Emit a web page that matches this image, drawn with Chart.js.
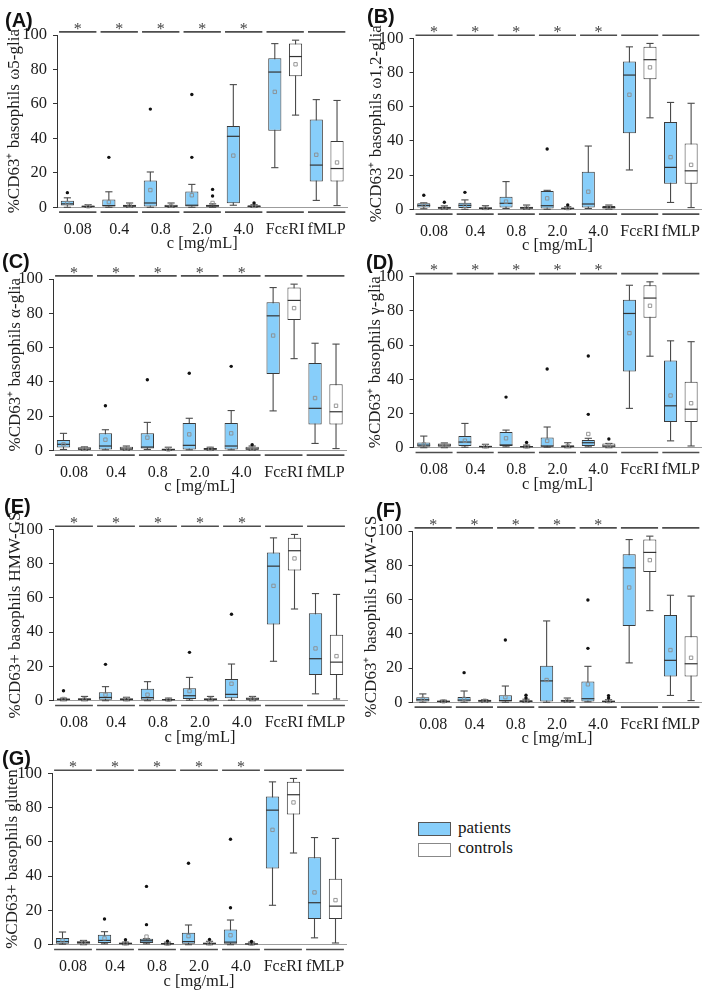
<!DOCTYPE html>
<html>
<head>
<meta charset="utf-8">
<script src="https://cdn.jsdelivr.net/npm/chart.js@4.4.1/dist/chart.umd.min.js"></script>
<style>
html,body{margin:0;padding:0;background:#fff;}
#wrap{position:relative;width:709px;height:992px;overflow:hidden;background:#fff;}
#wrap canvas{position:absolute;}
.lg{position:absolute;font-family:'Liberation Serif',serif;font-size:17px;color:#151515;line-height:20px;white-space:nowrap;}
.sw{position:absolute;width:31px;height:12px;border:1px solid #666;}
</style>
</head>
<body>
<div id="wrap">
  <div class="sw" style="left:418px;top:822px;background:#87CEFA;border-color:#555;"></div>
  <div class="lg" style="left:458px;top:818px;">patients</div>
  <div class="sw" style="left:418px;top:843px;background:#fff;border-color:#888;"></div>
  <div class="lg" style="left:458px;top:838px;">controls</div>
</div>
<script>
// ---------------- data ----------------
const groups = ['0.08', '0.4', '0.8', '2.0', '4.0', 'FcεRI', 'fMLP'];
const stars  = ['*', '*', '*', '*', '*', '', ''];

// box stats per group: [lower whisker, Q1, median, Q3, upper whisker]
// positive controls (same in all panels)
const posPatients      = [[23, 44.5, 78.5, 86.5, 95], [4, 15, 24.5, 51, 62.5]];
const posPatientsMean  = [67, 30.5];
const posControls      = [[53.5, 76, 87.5, 95, 97], [1, 15, 22.5, 38.5, 62]];
const posControlsMean  = [83, 26];

// (A) omega5-gliadin
const omega5Patients     = [[0,1,2,3.8,5.5],[0,0.5,1,4.5,9],[0,0.5,2.5,15.5,20.5],[0,0.5,1.2,9.2,13.3],[1.2,2.3,41.2,47.2,71.2]];
const omega5PatientsMean = [2.5, 3, 10, 7, 30];
const omega5PatientsOut  = [[8.5],[29],[57],[29,65.5],[]];
const omega5Controls     = [[0,0.2,0.5,1,1.5],[0,0.3,0.7,1.5,2.5],[0,0.2,0.7,1.5,2.5],[0,0.3,0.8,1.5,2],[0,0.2,0.5,1.2,1.5]];
const omega5ControlsMean = [0.6, 1, 1, 2.5, 0.8];
const omega5ControlsOut  = [[],[],[],[6.6,10.4],[2.5]];

// (B) omega1,2-gliadin
const omega12Patients     = [[0.3,1,2.3,3.5,3.8],[0,0.8,2.3,3.9,5.5],[0.5,1,3.5,7.4,16.2],[0,0.5,2.1,10.7,11.1],[0.5,1,3.1,22,37]];
const omega12PatientsMean = [2.5, 2, 4.5, 6.4, 10.3];
const omega12PatientsOut  = [[8.2],[9.9],[],[35.3],[]];
const omega12Controls     = [[0,0.3,0.8,1.5,2],[0,0.2,0.6,1.2,2.1],[0,0.3,0.8,1.5,2.5],[0,0.2,0.5,1,1.5],[0,0.5,1,2,2.5]];
const omega12ControlsMean = [1, 0.8, 1, 0.7, 1.2];
const omega12ControlsOut  = [[4.1],[],[],[2.5],[]];

// (C) alpha-gliadin
const alphaPatients     = [[0.5,1.6,3.5,6,9.9],[0.3,0.5,2.5,10,12],[0.5,1,1.9,9.9,16.3],[0.3,0.5,2.9,16,18.7],[0.3,0.5,2.5,16,23.2]];
const alphaPatientsMean = [3.5, 6.2, 7.4, 9.3, 9.9];
const alphaPatientsOut  = [[],[26],[41.2],[45],[49]];
const alphaControls     = [[0,0.3,0.7,1.8,2],[0,0.3,0.8,2,2.5],[0,0.1,0.4,1,1.8],[0,0.3,0.7,1.3,1.8],[0,0.3,0.8,2,2.5]];
const alphaControlsMean = [0.8, 1, 0.5, 0.8, 1];
const alphaControlsOut  = [[],[],[],[],[3.3]];

// (D) gamma-gliadin
const gammaPatients     = [[0,0.5,1.5,3.1,6.8],[0.3,1,3.3,6.8,14.2],[0.5,1,1.6,9.2,10.3],[0.3,0.5,1,6,12.1],[0.5,1,2.9,4.5,5.5]];
const gammaPatientsMean = [2, 4.1, 5.5, 4, 8];
const gammaPatientsOut  = [[],[],[29.6],[46],[19.5,53.6]];
const gammaControls     = [[0,0.5,1.5,2.5,2.8],[0,0.3,0.7,1.2,2],[0,0.3,0.6,1,1.5],[0,0.3,0.7,1.5,2.9],[0,0.3,1,2.5,2.5]];
const gammaControlsMean = [1.5, 0.8, 0.7, 1, 1.3];
const gammaControlsOut  = [[],[],[3.1],[],[5.1]];

// (E) HMW-GS
const hmwPatients     = [[0,0.3,0.8,1.3,1.5],[0,0.5,1.9,5,8.2],[0,0.5,1.8,7,11.1],[0.3,1,2.9,7.2,13.6],[0.3,1.5,3.7,12.6,21.4]];
const hmwPatientsMean = [1, 3.5, 3.5, 5.6, 9.9];
const hmwPatientsOut  = [[5.8],[21.2],[],[28.2],[50.4]];
const hmwControls     = [[0,0.3,0.8,1.5,2.5],[0,0.3,0.7,1.5,2],[0,0.2,0.6,1,1.5],[0,0.3,0.7,1.5,2.5],[0,0.5,1,1.8,2.5]];
const hmwControlsMean = [1, 0.9, 0.6, 1, 1.2];
const hmwControlsOut  = [[],[],[],[],[]];

// (F) LMW-GS
const lmwPatients     = [[0,0.5,1.5,2.9,4.9],[0,0.5,1.3,3.1,6.6],[0,0.5,1,4.1,9.5],[0,0.5,12.5,21.4,47.5],[0.3,0.5,2.1,12.1,21]];
const lmwPatientsMean = [2, 2, 3, 13, 10.5];
const lmwPatientsOut  = [[],[17.3],[36.4],[],[31.5,59.7]];
const lmwControls     = [[0,0.2,0.5,1,1.2],[0,0.3,0.8,1.5,1.5],[0,0.2,0.6,1.2,1.8],[0,0.3,0.8,1.5,2.5],[0,0.2,0.5,1,1.5]];
const lmwControlsMean = [0.6, 0.9, 0.8, 1, 0.7];
const lmwControlsOut  = [[],[],[2.5,4.1],[],[2.5,3.9]];

// (G) gluten
const glutenPatients     = [[0.3,0.5,1.8,3.9,7.4],[0.5,1,2.5,5.8,7.6],[0.5,1,2.3,3.5,3.5],[0,0.5,1.8,7,11.5],[0,0.5,1.5,8.9,14.4]];
const glutenPatientsMean = [2.5, 3.7, 4.7, 5, 5.5];
const glutenPatientsOut  = [[],[15],[11.7,34],[47.5],[21.6,61.5]];
const glutenControls     = [[0,0.5,1.3,2,2.5],[0,0.3,0.7,1.3,1.5],[0,0.2,0.5,1,1.5],[0,0.3,0.7,1.3,2],[0,0.2,0.4,0.8,1.5]];
const glutenControlsMean = [1.3, 0.8, 0.6, 0.8, 0.6];
const glutenControlsOut  = [[],[2.9],[2.1],[3.1],[1.9]];

const xTitle = 'c [mg/mL]';
const seriesNames = ['patients', 'controls'];

// ---------------- layout ----------------
const PANELS = [
  {key:'A', yTitle:'%CD63⁺ basophils ω5-glia', p:omega5Patients, pm:omega5PatientsMean, po:omega5PatientsOut, c:omega5Controls, cm:omega5ControlsMean, co:omega5ControlsOut,
   cv:{l:0,t:0,w:355}, area:{l:57,r:350.5,t:35,b:207.3}, lab:{x:5,y:21}, yt:14.5},
  {key:'B', yTitle:'%CD63⁺ basophils ω1,2-glia', p:omega12Patients, pm:omega12PatientsMean, po:omega12PatientsOut, c:omega12Controls, cm:omega12ControlsMean, co:omega12ControlsOut,
   cv:{l:355,t:0,w:354}, area:{l:413.5,r:706.5,t:38.3,b:209.3}, lab:{x:367,y:17.5}, yt:377},
  {key:'C', yTitle:'%CD63⁺ basophils α-glia', p:alphaPatients, pm:alphaPatientsMean, po:alphaPatientsOut, c:alphaControls, cm:alphaControlsMean, co:alphaControlsOut,
   cv:{l:0,t:250,w:355}, area:{l:53,r:346.5,t:279,b:450.3}, lab:{x:2,y:262}, yt:15.5},
  {key:'D', yTitle:'%CD63⁺ basophils γ-glia', p:gammaPatients, pm:gammaPatientsMean, po:gammaPatientsOut, c:gammaControls, cm:gammaControlsMean, co:gammaControlsOut,
   cv:{l:355,t:250,w:354}, area:{l:413.5,r:706.5,t:276.7,b:447.7}, lab:{x:366,y:263}, yt:375.5},
  {key:'E', yTitle:'%CD63+ basophils HMW-GS', p:hmwPatients, pm:hmwPatientsMean, po:hmwPatientsOut, c:hmwControls, cm:hmwControlsMean, co:hmwControlsOut,
   cv:{l:0,t:495,w:355}, area:{l:53,r:347,t:529.3,b:700.7}, lab:{x:4,y:507}, yt:15.5},
  {key:'F', yTitle:'%CD63⁺ basophils LMW-GS', p:lmwPatients, pm:lmwPatientsMean, po:lmwPatientsOut, c:lmwControls, cm:lmwControlsMean, co:lmwControlsOut,
   cv:{l:355,t:495,w:354}, area:{l:412.5,r:705.5,t:531,b:702.3}, lab:{x:376,y:511}, yt:372},
  {key:'G', yTitle:'%CD63+ basophils gluten', p:glutenPatients, pm:glutenPatientsMean, po:glutenPatientsOut, c:glutenControls, cm:glutenControlsMean, co:glutenControlsOut,
   cv:{l:0,t:740,w:355}, area:{l:52,r:346,t:773.3,b:944.7}, lab:{x:2,y:759}, yt:12.5}
];

const BLUE = '#87CEFA';
const SERIF = "'Liberation Serif', 'Times New Roman', serif";
const TEXT = '#1c1c1c';
const TOP_H = 22;

function buildPanel(P) {
  const h = Math.ceil(P.area.b + 46.6 - P.cv.t);
  const cvs = document.createElement('canvas');
  cvs.width = P.cv.w; cvs.height = h;
  cvs.style.left = P.cv.l + 'px'; cvs.style.top = P.cv.t + 'px';
  cvs.style.width = P.cv.w + 'px'; cvs.style.height = h + 'px';
  document.getElementById('wrap').appendChild(cvs);

  const padL = P.lab.x - P.cv.l;
  const padR = P.cv.l + P.cv.w - P.area.r;
  const yW = P.area.l - P.cv.l - padL;
  const ytPad = P.yt - P.lab.x - 8.5;
  const tPad = P.lab.y - P.cv.t - 10;
  const tPadB = (P.area.t - P.cv.t) - TOP_H - tPad - 20;
  const xH = P.cv.t + h - P.area.b;

  const pat = P.p.concat(posPatients), patM = P.pm.concat(posPatientsMean), patO = P.po.concat([[], []]);
  const ctl = P.c.concat(posControls), ctlM = P.cm.concat(posControlsMean), ctlO = P.co.concat([[], []]);

  const items = [];
  groups.forEach((g, i) => {
    items.push({x: 2 * i, s: pat[i], m: patM[i], o: patO[i], fill: BLUE});
    items.push({x: 2 * i + 1, s: ctl[i], m: ctlM[i], o: ctlO[i], fill: '#ffffff'});
  });

  const seg = yv => groups.flatMap((g, i) => [{x: 2*i - 0.4, y: yv}, {x: 2*i + 1.4, y: yv}, {x: 2*i + 1.45, y: null}]);
  const groupTicks = s => { s.ticks = groups.map((g, i) => ({value: 2 * i + 0.5})); };

  const datasets = [
    { type: 'bar', label: 'whiskers', grouped: false, order: 6, clip: false,
      data: items.map(it => ({x: it.x, y: [it.s[0], it.s[4]]})),
      backgroundColor: '#4a4a4a', borderWidth: 0, maxBarThickness: 1.1, inflateAmount: 0 },
    { type: 'bar', label: 'boxes', grouped: false, order: 5, clip: false,
      data: items.map(it => ({x: it.x, y: [it.s[1], it.s[3]]})),
      backgroundColor: items.map(it => it.fill), borderColor: '#3a3a3a', borderWidth: 1,
      borderSkipped: false, categoryPercentage: 1, barPercentage: 0.635, inflateAmount: 0 },
    { type: 'scatter', label: 'caps', order: 4, clip: false, showLine: false,
      data: items.flatMap(it => [{x: it.x, y: it.s[0]}, {x: it.x, y: it.s[4]}]),
      pointStyle: 'line', pointRadius: 3.6, pointBorderColor: '#4a4a4a', pointBorderWidth: 1.1 },
    { type: 'scatter', label: 'medians', order: 3, clip: false, showLine: false,
      data: items.map(it => ({x: it.x, y: it.s[2]})),
      pointStyle: 'line', pointRadius: 6.4, pointBorderColor: '#333', pointBorderWidth: 1.2 },
    { type: 'scatter', label: 'means', order: 2, clip: false, showLine: false,
      data: items.map(it => ({x: it.x, y: it.m})),
      pointStyle: 'rect', pointRadius: 2.4, pointBorderColor: '#8c8c8c', pointBorderWidth: 0.9,
      pointBackgroundColor: 'rgba(0,0,0,0)' },
    { type: 'scatter', label: 'outliers', order: 1, clip: false, showLine: false,
      data: items.flatMap(it => it.o.map(v => ({x: it.x, y: v}))),
      pointStyle: 'circle', pointRadius: 1.7, pointBorderWidth: 0, pointBackgroundColor: '#111' },
    { type: 'line', label: 'topSeg', order: 7, clip: false, spanGaps: false,
      data: seg(101.8), borderColor: '#4d4d4d', borderWidth: 1.6, pointRadius: 0 },
    { type: 'line', label: 'botSeg', order: 7, clip: false, spanGaps: false,
      data: seg(-2.8), borderColor: '#4d4d4d', borderWidth: 1.6, pointRadius: 0 }
  ];

  new Chart(cvs, {
    type: 'bar',
    data: { datasets },
    options: {
      responsive: false, animation: false, events: [], devicePixelRatio: 1,
      layout: { padding: { left: padL, right: padR, top: 0, bottom: 0 } },
      plugins: {
        legend: { display: false }, tooltip: { enabled: false },
        title: { display: true, text: '(' + P.key + ')', align: 'start', color: '#111',
          font: { family: "'Liberation Sans', Arial, sans-serif", weight: 'bold', size: 20, lineHeight: 1 },
          padding: { top: tPad, bottom: tPadB } }
      },
      scales: {
        x: { type: 'linear', position: 'bottom', min: -0.5, max: 13.5, offset: false,
          grid: { display: false, drawTicks: false },
          border: { display: true, color: '#9c9c9c', width: 1 },
          afterBuildTicks: groupTicks,
          ticks: { autoSkip: false, maxRotation: 0, minRotation: 0, padding: 2, color: TEXT,
            font: { family: SERIF, size: 16, lineHeight: 2.5 },
            callback: (v, i) => groups[i] },
          title: { display: true, text: xTitle, color: TEXT, padding: 0,
            font: { family: SERIF, size: 16.5, lineHeight: 1.2 } },
          afterFit: s => { s.height = xH; } },
        xTop: { type: 'linear', position: 'top', min: -0.5, max: 13.5, offset: false,
          grid: { display: false, drawTicks: false }, border: { display: false },
          afterBuildTicks: groupTicks,
          ticks: { autoSkip: false, maxRotation: 0, minRotation: 0, padding: -4, color: '#444',
            font: { family: SERIF, size: 16, lineHeight: 1.2 },
            callback: (v, i) => stars[i] },
          afterFit: s => { s.height = TOP_H; } },
        y: { type: 'linear', position: 'left', min: 0, max: 100,
          ticks: { stepSize: 20, padding: 6, color: TEXT, font: { family: SERIF, size: 16.5, lineHeight: 1.2 } },
          grid: { drawOnChartArea: false, drawTicks: true, tickLength: 4, color: '#333', lineWidth: 1 },
          border: { display: true, color: '#333', width: 1 },
          title: { display: true, text: P.yTitle, color: TEXT,
            font: { family: SERIF, size: 17, lineHeight: 1 }, padding: { top: ytPad, bottom: 0 } },
          afterFit: s => { s.width = yW; } }
      }
    }
  });
}

PANELS.forEach(buildPanel);
</script>
</body>
</html>
